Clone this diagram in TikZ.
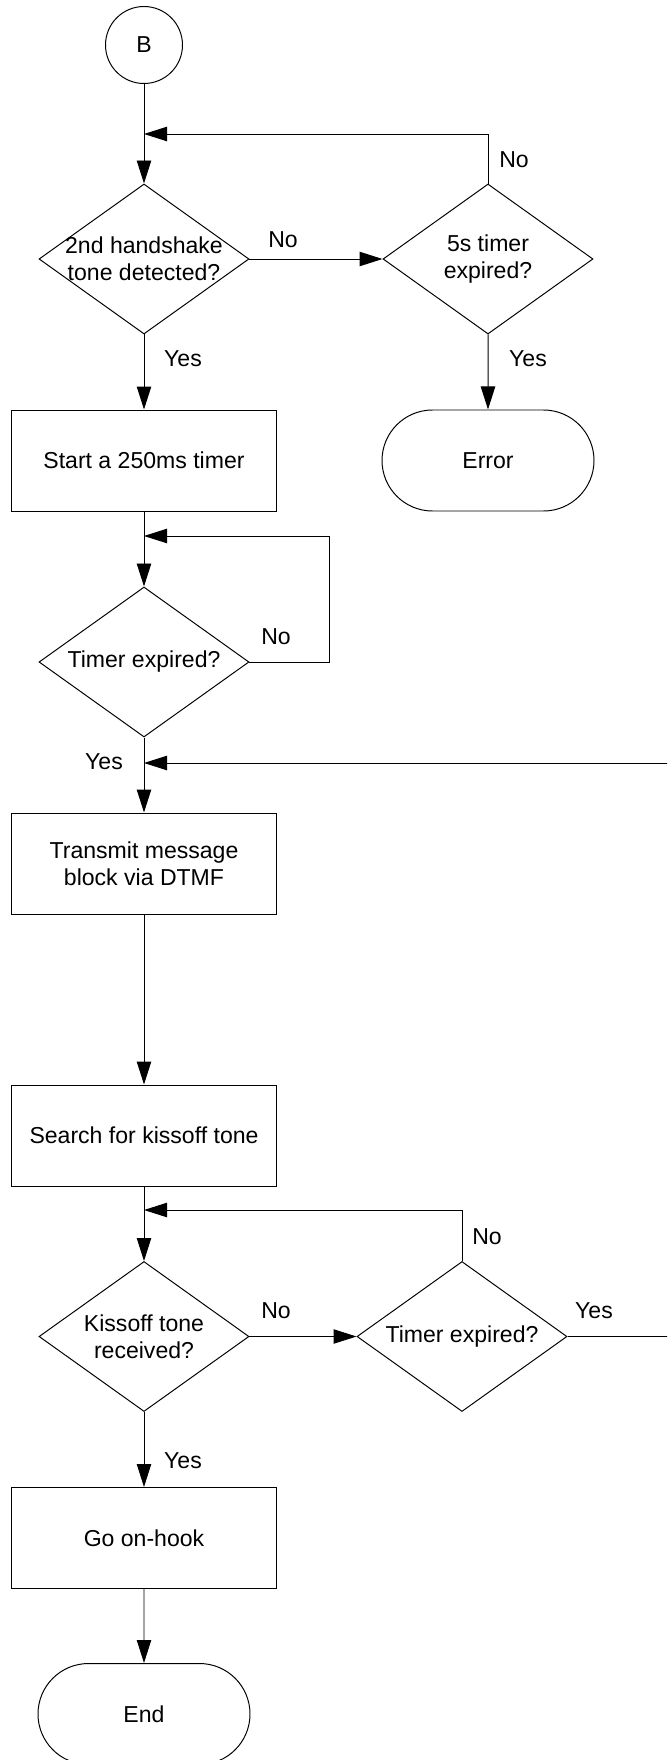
\documentclass[tikz,border=0pt]{standalone}
\usepackage{fontspec}
\setmainfont{Liberation Sans}
\usetikzlibrary{shapes.geometric,shapes.misc,arrows.meta}

\begin{document}
\begin{tikzpicture}[line width=0.7pt,
    font=\fontsize{16.4pt}{19.2pt}\selectfont,
    proc/.style={draw,rectangle,minimum width=6.625cm,minimum height=2.525cm,inner sep=0pt,align=center},
    decision/.style={draw,diamond,minimum width=5.25cm,minimum height=3.75cm,shape aspect=1.4,inner xsep=-3mm,inner ysep=0pt,align=center},
    term/.style={draw,rounded rectangle,minimum width=5.3cm,minimum height=2.525cm,inner sep=0pt},
    conn/.style={draw,circle,minimum size=1.925cm,inner sep=0pt},
    flow/.style={-{Triangle[length=5.75mm,width=3.6mm]}}]
\useasboundingbox (0,0) rectangle (16.675,-44);
\clip (0,0) rectangle (16.675,-44);

%% handshake
\node[conn] (B) at (3.6,-1.125) {B};
\node[decision] (hs) at (3.6,-6.475) {2nd handshake\\tone detected?};
\node[decision] (tmo) at (12.2,-6.475) {5s timer\\expired?};
\node[proc] (start) at (3.6,-11.5125) {Start a 250ms timer};
\node[term] (err) at (12.2,-11.5125) {Error};
\node[decision] (wait) at (3.6,-16.55) {Timer expired?};
%% message and kissoff
\node[proc] (tx) at (3.6,-21.5875) {Transmit message\\block via DTMF};
\node[proc] (search) at (3.6,-28.3875) {Search for kissoff tone};
\node[decision] (kiss) at (3.6,-33.4125) {Kissoff tone\\received?};
\node[decision] (ktmo) at (11.55,-33.4125) {Timer expired?};
\node[proc] (hook) at (3.6,-38.45) {Go on-hook};
\node[term] (end) at (3.6,-42.85) {End};

\coordinate (j1) at (3.6,-3.35);
\coordinate (j2) at (3.6,-13.4);
\coordinate (r2) at (8.225,-13.4);
\coordinate (j3) at (3.6,-19.075);
\coordinate (r3) at (17,-19.075);
\coordinate (j4) at (3.6,-30.25);

\draw[flow] (B) -- (hs);
\draw[flow] (hs) -- (tmo);
\draw[flow] (tmo) |- (j1);
\draw[flow] (tmo) -- (err);
\draw[flow] (hs) -- (start);
\draw[flow] (start) -- (wait);
\draw[flow] (wait.east) -| (r2) -- (j2);
\draw[flow] (wait) -- (tx);
\draw[flow] (tx) -- (search);
\draw[flow] (search) -- (kiss);
\draw[flow] (kiss) -- (ktmo);
\draw[flow] (ktmo) |- (j4);
\draw[flow] (ktmo.east) -| (r3) -- (j3);
\draw[flow] (kiss) -- (hook);
\draw[flow] (hook) -- (end);

%% yes / no
\node (no1) at (7.075,-6.0) {No};
\node (no2) at (12.85,-3.99) {No};
\node (yes1) at (4.575,-8.975) {Yes};
\node (yes2) at (13.2,-8.975) {Yes};
\node (no3) at (6.9,-15.925) {No};
\node (yes3) at (2.6,-19.05) {Yes};
\node (no4) at (6.9,-32.775) {No};
\node (no5) at (12.175,-30.925) {No};
\node (yes5) at (14.85,-32.775) {Yes};
\node (yes4) at (4.575,-36.525) {Yes};
\end{tikzpicture}
\end{document}
